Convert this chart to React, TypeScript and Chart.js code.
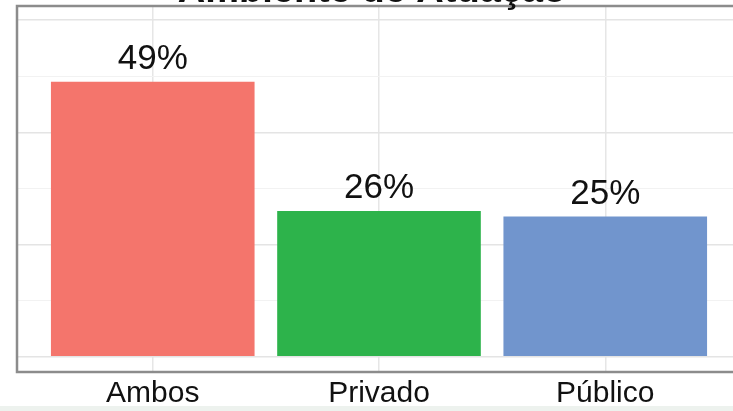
import React, { useEffect, useRef } from "react";
import { Chart, registerables } from "chart.js";

Chart.register(...registerables);

const title = "Ambiente de Atuação";
const categories = ["Ambos", "Privado", "Público"];
const shares = [0.49, 0.26, 0.25];
const shareLabels = ["49%", "26%", "25%"];
const barColors = ["#F4756C", "#2DB34B", "#7195CD"];
const yTicks = [0, 0.1, 0.2, 0.3, 0.4, 0.5, 0.6];

const FONT = "'Liberation Sans', Arial, sans-serif";

export default function App() {
  const ref = useRef<HTMLCanvasElement>(null);

  useEffect(() => {
    const canvas = ref.current!;
    const isMajor = (v: number) => Math.round(v * 10) % 2 === 0;

    const barLabels = {
      id: "barLabels",
      afterDatasetsDraw(chart: any) {
        const ctx = chart.ctx;
        const meta = chart.getDatasetMeta(0);
        ctx.save();
        ctx.font = `35px ${FONT}`;
        ctx.fillStyle = "#111111";
        ctx.textAlign = "center";
        ctx.textBaseline = "alphabetic";
        meta.data.forEach((el: any, i: number) => {
          ctx.fillText(shareLabels[i], el.x, el.y - 13);
        });
        ctx.restore();
      },
    };

    const panelBorder = {
      id: "panelBorder",
      afterDraw(chart: any) {
        const { ctx, chartArea } = chart;
        ctx.save();
        ctx.strokeStyle = "#8c8c8c";
        ctx.lineWidth = 2.5;
        ctx.strokeRect(chartArea.left, chartArea.top, chartArea.right - chartArea.left, chartArea.bottom - chartArea.top);
        ctx.font = `bold 38px ${FONT}`;
        ctx.fillStyle = "#111111";
        ctx.textAlign = "center";
        ctx.textBaseline = "alphabetic";
        ctx.fillText(title, 372, 2);
        ctx.restore();
      },
    };

    const chart = new Chart(canvas, {
      type: "bar",
      data: {
        datasets: [
          {
            data: shares.map((v, i) => ({ x: i + 1, y: v })),
            backgroundColor: barColors,
            borderWidth: 0,
            categoryPercentage: 1,
            barPercentage: 0.9,
          },
        ],
      },
      options: {
        animation: false,
        responsive: false,
        devicePixelRatio: 1,
        layout: { padding: { left: 17, top: 6, right: 19, bottom: 0 } },
        plugins: {
          legend: { display: false },
          tooltip: { enabled: false },
          title: { display: false },
        },
        scales: {
          x: {
            type: "linear",
            min: 0.4,
            max: 3.6,
            offset: false,
            afterBuildTicks: (s: any) => {
              s.ticks = categories.map((_, i) => ({ value: i + 1 }));
            },
            ticks: {
              callback: (v: any) => categories[Number(v) - 1] ?? "",
              font: { family: FONT, size: 30 },
              color: "#111111",
              padding: 4,
              maxRotation: 0,
              autoSkip: false,
            },
            grid: { color: "#e6e6e6", lineWidth: 1.5, drawTicks: false, offset: false },
            border: { display: false },
            afterFit: (s: any) => {
              s.height = 39;
            },
          },
          y: {
            type: "linear",
            min: -0.027,
            max: 0.625,
            afterBuildTicks: (s: any) => {
              s.ticks = yTicks.map((v) => ({ value: v }));
            },
            ticks: { display: false },
            grid: {
              color: (c: any) => (c.tick && isMajor(c.tick.value) ? "#e4e4e4" : "#f2f2f2"),
              lineWidth: (c: any) => (c.tick && isMajor(c.tick.value) ? 1.5 : 1),
              drawTicks: false,
            },
            border: { display: false },
            afterFit: (s: any) => {
              s.width = 0;
            },
          },
        },
      } as any,
      plugins: [barLabels, panelBorder],
    });
    return () => chart.destroy();
  }, []);

  return (
    <div
      style={{
        position: "fixed",
        left: 0,
        top: 0,
        width: 733,
        height: 411,
        overflow: "hidden",
        background: "#ffffff",
      }}
    >
      <canvas
        ref={ref}
        width={760}
        height={411}
        style={{ position: "absolute", left: 0, top: 0, display: "block" }}
      />
      <div
        style={{
          position: "absolute",
          left: 0,
          top: 406,
          width: 733,
          height: 5,
          background: "#edf2ee",
        }}
      />
    </div>
  );
}
